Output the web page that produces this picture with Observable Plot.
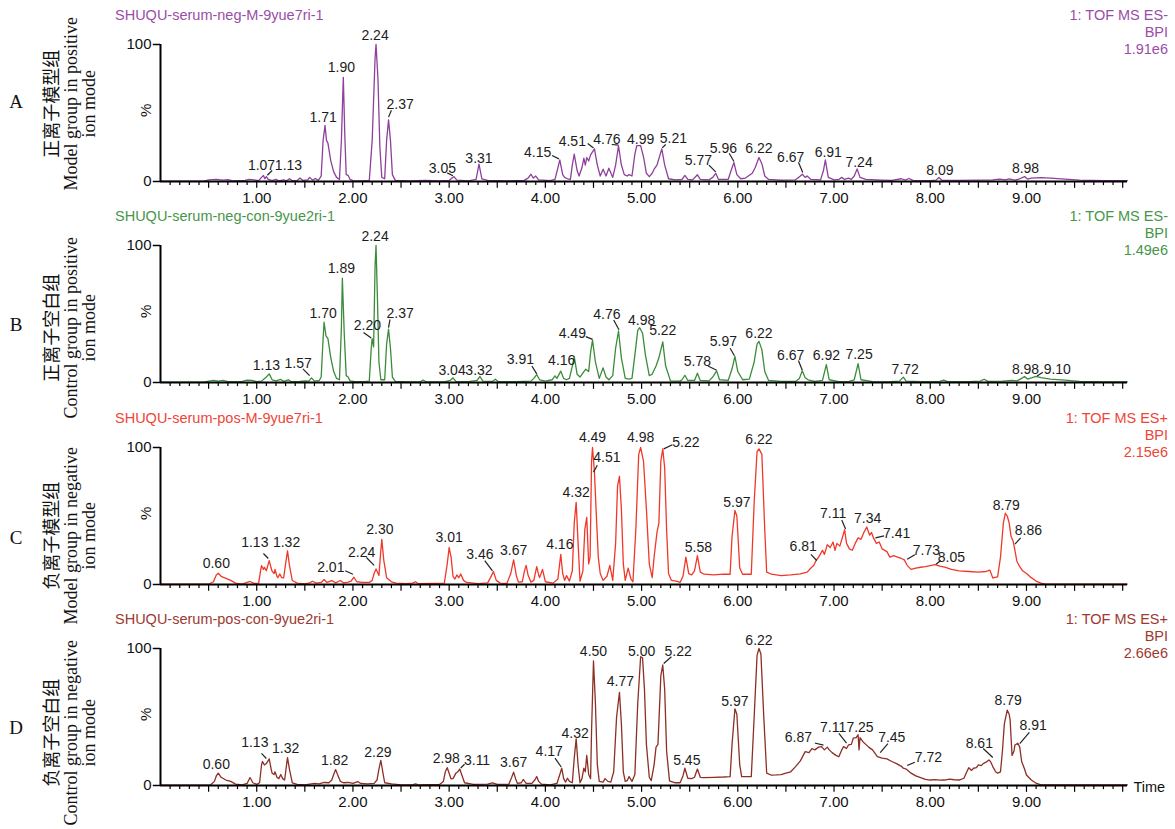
<!DOCTYPE html>
<html><head><meta charset="utf-8">
<script src="https://cdn.jsdelivr.net/npm/d3@7"></script>
<script src="https://cdn.jsdelivr.net/npm/@observablehq/plot@0.6"></script>
<style>
body{margin:0;background:#fff;}
#root{position:relative;width:1175px;height:829px;overflow:hidden;font-family:"Liberation Sans",Arial,sans-serif;background:#fff;}
.panel{position:absolute;left:0;width:1175px;height:201px;}
.panel svg{position:absolute;left:0;top:0;overflow:visible;}
.title{position:absolute;left:115px;top:6.5px;font-size:14.5px;line-height:17px;white-space:nowrap;}
.hdr{position:absolute;right:7px;top:6.5px;font-size:14.5px;line-height:17px;text-align:right;white-space:nowrap;}
.side{position:absolute;width:260px;height:55.5px;font-family:"Liberation Serif","Noto Sans CJK SC",serif;font-size:18px;line-height:18.5px;text-align:center;transform:rotate(-90deg);white-space:nowrap;color:#111;}
.letter{position:absolute;left:6px;width:20px;text-align:center;font-family:"Liberation Serif",serif;font-size:19px;line-height:20px;color:#111;}
</style></head><body><div id="root"></div><script>
// ---------- data ----------
const xMax = 10.05;
const majorTicks = [1, 2, 3, 4, 5, 6, 7, 8, 9];
const yTicks = [0, 100];
const titles = ["SHUQU-serum-neg-M-9yue7ri-1", "SHUQU-serum-neg-con-9yue2ri-1", "SHUQU-serum-pos-M-9yue7ri-1", "SHUQU-serum-pos-con-9yue2ri-1"];
const headers = [["1: TOF MS ES-", "BPI", "1.91e6"], ["1: TOF MS ES-", "BPI", "1.49e6"], ["1: TOF MS ES+", "BPI", "2.15e6"], ["1: TOF MS ES+", "BPI", "2.66e6"]];
const panelLetters = ["A", "B", "C", "D"];
const sideLabels = [
  ["正离子模型组", "Model group in positive", "ion mode"],
  ["正离子空白组", "Control group in positive", "ion mode"],
  ["负离子模型组", "Model group in negative", "ion mode"],
  ["负离子空白组", "Control group in negative", "ion mode"]
];

// [time (min), relative intensity %]
const traceA = [[0.00,0.3],[0.45,0.3],[0.50,1.2],[0.58,1.5],[0.65,1.0],[0.70,1.3],[0.75,0.5],[0.88,0.8],[0.92,1.6],[0.97,1.2],[1.02,0.6],[1.05,3.0],[1.07,4.4],[1.085,2.0],[1.10,3.6],[1.12,1.5],[1.16,0.6],[1.20,1.5],[1.23,0.5],[1.28,1.2],[1.31,0.5],[1.34,2.0],[1.37,0.6],[1.42,0.8],[1.45,2.5],[1.48,0.8],[1.53,1.2],[1.55,3.0],[1.58,1.0],[1.61,2.2],[1.64,0.8],[1.67,4],[1.69,30],[1.71,41],[1.725,30],[1.74,28],[1.77,15],[1.80,7],[1.83,3],[1.86,1.5],[1.88,30],[1.90,76],[1.915,35],[1.93,5],[1.95,4.5],[1.97,1.5],[2.00,0.6],[2.10,0.5],[2.17,0.8],[2.20,30],[2.23,90],[2.24,100],[2.26,75],[2.28,25],[2.30,3],[2.33,2],[2.35,30],[2.37,45],[2.39,30],[2.41,5],[2.44,0.8],[2.6,0.5],[2.75,0.8],[2.9,0.5],[3.0,0.8],[3.03,2.5],[3.05,3.6],[3.08,1.0],[3.2,0.5],[3.28,1.5],[3.31,12.6],[3.34,2],[3.40,0.8],[3.6,0.5],[3.78,0.8],[3.82,2.5],[3.85,5.3],[3.875,2.5],[3.90,4.0],[3.93,1.2],[4.05,0.6],[4.10,1.5],[4.13,10],[4.15,15.8],[4.18,5],[4.20,3],[4.23,2],[4.26,1.5],[4.28,12],[4.30,20],[4.33,8],[4.35,4],[4.38,10],[4.40,17],[4.415,12],[4.43,17.5],[4.45,15],[4.47,19.4],[4.51,23.8],[4.54,12],[4.57,4],[4.60,9],[4.63,4],[4.66,9.7],[4.70,3],[4.73,12],[4.76,26],[4.79,12],[4.82,5],[4.85,4],[4.87,5],[4.90,4],[4.93,20],[4.95,26.2],[4.99,26.2],[5.02,18],[5.05,6],[5.08,3.5],[5.11,6],[5.13,9],[5.16,12],[5.21,23.8],[5.24,12],[5.28,2],[5.35,1.2],[5.42,1.5],[5.45,4.4],[5.48,1.5],[5.53,1.2],[5.58,4.9],[5.61,1.5],[5.70,1.2],[5.74,3],[5.77,6],[5.80,1.5],[5.90,1.5],[5.93,8],[5.96,13.8],[5.99,5],[6.03,2],[6.08,2.5],[6.12,4.5],[6.15,6],[6.18,10],[6.22,17.5],[6.25,13],[6.28,4],[6.32,1.5],[6.45,1.0],[6.60,1.2],[6.65,4],[6.67,5.3],[6.70,3],[6.72,4],[6.76,1.5],[6.86,1.2],[6.89,8],[6.91,15.8],[6.94,3],[7.00,1.2],[7.05,1.5],[7.08,3],[7.11,1.5],[7.15,2.4],[7.18,1.5],[7.21,4],[7.24,9.2],[7.27,3],[7.33,1.5],[7.5,1.0],[7.6,0.8],[7.70,2],[7.74,1.0],[7.78,2.2],[7.82,0.8],[8.0,0.7],[8.06,1.0],[8.09,2.9],[8.12,0.9],[8.3,0.8],[8.5,1.0],[8.65,1.2],[8.72,1.8],[8.78,1.2],[8.82,2.0],[8.88,1.0],[8.93,2.0],[8.98,3.6],[9.01,1.8],[9.05,2.5],[9.15,2.8],[9.25,2.5],[9.4,1.8],[9.55,1.0],[9.8,0.7],[10.05,0.7]];

const traceB = [[0.00,0.3],[0.45,0.3],[0.50,1.0],[0.55,1.5],[0.60,1.0],[0.65,1.5],[0.70,0.6],[0.85,0.8],[0.90,1.8],[0.95,1.5],[1.00,0.6],[1.05,1.0],[1.10,4],[1.13,6.3],[1.16,2],[1.20,1.2],[1.25,2.2],[1.28,0.8],[1.33,2.0],[1.36,0.6],[1.45,0.8],[1.50,1.2],[1.54,1],[1.57,3.4],[1.60,1],[1.65,1.5],[1.67,4],[1.69,32],[1.70,44],[1.72,34],[1.74,32],[1.77,18],[1.80,8],[1.83,3],[1.86,2],[1.88,40],[1.89,76],[1.91,35],[1.93,5],[1.95,4],[1.97,1.2],[2.02,0.6],[2.12,0.6],[2.17,1],[2.19,25],[2.20,32],[2.215,26],[2.23,85],[2.24,100],[2.255,60],[2.27,15],[2.29,2],[2.33,2],[2.35,28],[2.37,39],[2.39,25],[2.41,4],[2.44,0.8],[2.6,0.5],[2.70,0.5],[2.73,1.8],[2.76,0.5],[2.95,0.5],[3.01,1.5],[3.04,3.4],[3.07,0.8],[3.20,0.6],[3.29,1.5],[3.32,4.4],[3.35,1.0],[3.45,0.8],[3.48,2.4],[3.51,0.7],[3.70,0.6],[3.85,1],[3.88,3],[3.91,5.8],[3.94,2],[4.00,1],[4.07,2],[4.10,4.9],[4.12,3],[4.16,8.3],[4.19,3],[4.22,2],[4.25,3],[4.28,12],[4.30,19],[4.33,6],[4.36,4],[4.40,8],[4.42,9.7],[4.45,8],[4.47,22],[4.49,31],[4.52,15],[4.56,3],[4.60,10.7],[4.63,4],[4.66,2],[4.70,5],[4.73,25],[4.76,37.6],[4.79,18],[4.83,3],[4.87,2.5],[4.90,3],[4.93,20],[4.96,38],[4.98,40],[5.01,36],[5.04,20],[5.08,5],[5.11,6],[5.15,12],[5.18,18],[5.22,29.6],[5.25,12],[5.30,1.2],[5.40,1.0],[5.42,2],[5.45,5.3],[5.48,1.5],[5.55,1.5],[5.58,6.8],[5.61,1.5],[5.70,1.2],[5.74,4],[5.78,8.5],[5.81,2],[5.90,1.5],[5.94,10],[5.97,19],[6.00,8],[6.05,2],[6.12,2.5],[6.17,15],[6.20,28],[6.22,30],[6.25,24],[6.28,8],[6.32,1.5],[6.45,0.8],[6.60,0.8],[6.64,3],[6.67,8.5],[6.70,3.5],[6.73,2],[6.80,0.8],[6.88,1.5],[6.92,13],[6.95,2],[7.05,0.7],[7.15,0.7],[7.21,2],[7.25,13.8],[7.28,2],[7.40,0.6],[7.55,0.5],[7.68,1.0],[7.72,3.9],[7.75,1.0],[7.9,0.6],[8.10,0.8],[8.14,1.8],[8.18,0.6],[8.40,0.6],[8.52,1.0],[8.56,2.4],[8.60,0.8],[8.75,1.0],[8.85,1.5],[8.90,1.2],[8.95,3],[8.98,4.4],[9.01,2.5],[9.06,3.5],[9.10,4.4],[9.15,3.5],[9.25,2.5],[9.40,1.8],[9.55,0.8],[9.8,0.5],[10.05,0.5]];

const traceC = [[0.00,0.2],[0.50,0.2],[0.55,2],[0.58,7],[0.60,8.2],[0.63,6],[0.68,4.5],[0.73,3],[0.78,1.0],[0.85,0.3],[0.90,1.5],[0.93,2.2],[0.97,0.8],[1.02,1.0],[1.04,10],[1.05,13.8],[1.07,11],[1.08,12.5],[1.10,10],[1.13,17.4],[1.15,12],[1.16,9.7],[1.18,8],[1.19,11],[1.21,6],[1.22,5],[1.24,7.7],[1.26,5],[1.28,4.8],[1.30,15],[1.32,24.6],[1.34,14],[1.37,2.9],[1.42,1.0],[1.50,0.5],[1.55,1.2],[1.58,2.4],[1.62,1.0],[1.67,1.5],[1.70,3.6],[1.73,1.5],[1.78,2.9],[1.82,1.2],[1.87,2.9],[1.90,1.2],[1.95,1.8],[1.98,2.5],[2.01,5.3],[2.04,2],[2.10,1.5],[2.17,1.5],[2.20,3],[2.22,8],[2.24,11.4],[2.27,6.5],[2.29,25],[2.30,33],[2.32,18],[2.35,5],[2.40,2],[2.45,1.0],[2.55,0.6],[2.62,1.0],[2.65,2],[2.68,0.6],[2.85,0.8],[2.95,1.0],[2.98,15],[3.00,27],[3.02,20],[3.04,6],[3.06,4],[3.08,7],[3.10,5],[3.12,7.7],[3.15,3],[3.18,1.5],[3.30,0.6],[3.40,1.2],[3.43,5],[3.46,9.5],[3.49,3],[3.53,1.0],[3.60,0.8],[3.64,8],[3.67,18],[3.70,6],[3.72,1.7],[3.76,2],[3.78,9],[3.80,14],[3.82,7],[3.85,1.7],[3.88,3],[3.91,13],[3.93,7],[3.94,5],[3.97,11],[4.00,2],[4.08,1.0],[4.13,4],[4.16,22],[4.18,8],[4.20,3],[4.22,6.5],[4.25,2.5],[4.28,10],[4.30,45],[4.32,60],[4.34,30],[4.36,2.4],[4.39,10],[4.41,40],[4.43,49],[4.45,15],[4.465,20],[4.48,90],[4.49,100],[4.51,82],[4.53,50],[4.55,20],[4.57,8],[4.60,3],[4.64,6],[4.67,14],[4.70,3],[4.73,30],[4.75,72],[4.77,79],[4.79,55],[4.81,15],[4.83,3],[4.86,12],[4.89,4],[4.91,2],[4.94,40],[4.97,95],[4.99,100],[5.02,90],[5.05,55],[5.08,15],[5.11,5],[5.13,20],[5.16,38],[5.18,45],[5.20,90],[5.22,99],[5.24,85],[5.26,40],[5.28,8],[5.31,3],[5.36,2.5],[5.40,1.5],[5.43,6],[5.46,20],[5.49,8],[5.52,7],[5.55,10],[5.58,21],[5.61,9],[5.65,7.5],[5.75,7],[5.85,7.5],[5.92,7.5],[5.94,35],[5.97,54],[5.99,50],[6.02,12],[6.05,7.5],[6.14,7.5],[6.17,60],[6.20,97],[6.22,99],[6.25,95],[6.28,40],[6.30,9],[6.35,7.5],[6.45,6.5],[6.55,7],[6.65,7.7],[6.72,9],[6.76,12],[6.79,14],[6.81,17],[6.84,20],[6.88,25],[6.90,22],[6.93,29],[6.96,27],[6.99,31],[7.01,25],[7.03,30],[7.06,28],[7.09,35],[7.11,40],[7.13,30],[7.16,26],[7.19,25],[7.22,30],[7.25,34],[7.28,33],[7.31,38],[7.34,42],[7.37,36],[7.39,38],[7.41,34],[7.44,30],[7.47,31],[7.50,26],[7.55,24],[7.58,20],[7.62,21],[7.66,20],[7.70,19],[7.73,18],[7.76,14],[7.80,11],[7.85,12],[7.90,12.6],[7.95,13],[8.00,13.8],[8.05,14.5],[8.10,13.5],[8.15,12.6],[8.22,11],[8.30,10],[8.40,9.5],[8.50,9],[8.58,9.5],[8.62,10.5],[8.65,4.8],[8.70,5.5],[8.73,20],[8.76,45],[8.78,52],[8.80,50],[8.82,45],[8.84,35],[8.86,32],[8.88,25],[8.90,17],[8.93,13],[8.96,10],[9.00,8],[9.05,5],[9.10,2.5],[9.15,1.0],[9.20,0.3],[10.05,0.3]];

const traceD = [[0.00,0.3],[0.52,0.3],[0.56,3],[0.58,7],[0.60,9],[0.63,6],[0.68,4],[0.73,3],[0.78,1.0],[0.85,0.4],[0.90,1.5],[0.93,5.8],[0.96,2],[1.00,0.8],[1.03,2],[1.05,15],[1.06,17.5],[1.08,15],[1.10,16],[1.13,19.4],[1.15,12],[1.16,9],[1.18,8],[1.19,10],[1.21,6],[1.23,5],[1.25,8],[1.27,5],[1.29,4],[1.31,15],[1.32,20.4],[1.34,12],[1.37,2],[1.42,0.8],[1.50,0.5],[1.55,1.0],[1.60,1.5],[1.65,1.2],[1.70,2.2],[1.75,2.0],[1.78,4],[1.80,8],[1.82,11.6],[1.84,8],[1.87,3],[1.90,2],[1.95,2.2],[2.00,1.5],[2.05,2.9],[2.08,1.5],[2.15,1.2],[2.22,1.5],[2.25,4],[2.27,12],[2.29,18.4],[2.31,10],[2.33,2],[2.40,1.2],[2.50,0.5],[2.62,0.5],[2.65,1.2],[2.68,0.5],[2.90,0.8],[2.94,3],[2.96,10],[2.98,13],[3.00,9],[3.02,4.8],[3.04,5],[3.07,9],[3.09,10],[3.11,12],[3.13,8],[3.16,2],[3.25,0.8],[3.40,1.0],[3.45,2],[3.50,0.8],[3.62,1.0],[3.65,6],[3.67,9.7],[3.69,5],[3.71,1.5],[3.75,2],[3.77,4.4],[3.80,1.5],[3.86,1.5],[3.89,4],[3.91,6.5],[3.93,3],[3.96,1.0],[4.05,0.5],[4.12,1.5],[4.15,8],[4.17,12.6],[4.19,5],[4.21,2.5],[4.23,5.3],[4.25,3],[4.28,2],[4.30,20],[4.32,34],[4.34,15],[4.36,2],[4.38,5],[4.40,12.6],[4.415,10],[4.43,22],[4.45,8],[4.47,5],[4.48,40],[4.50,91],[4.52,60],[4.54,15],[4.56,3],[4.60,2.5],[4.62,5],[4.65,3],[4.68,2.5],[4.71,10],[4.74,50],[4.77,68],[4.79,45],[4.81,10],[4.83,3],[4.85,3.5],[4.87,6.5],[4.90,3],[4.93,8],[4.96,60],[4.99,94],[5.01,93],[5.03,70],[5.05,30],[5.08,6],[5.10,3.6],[5.13,15],[5.15,28],[5.17,30],[5.20,80],[5.22,88],[5.24,70],[5.26,25],[5.29,3.4],[5.35,2],[5.40,2],[5.43,7],[5.45,12.6],[5.48,5.3],[5.52,5],[5.55,6],[5.58,12],[5.61,6],[5.65,5.8],[5.75,6],[5.85,6.2],[5.92,6.5],[5.94,30],[5.97,56],[5.99,52],[6.02,15],[6.04,6.5],[6.14,6.5],[6.17,50],[6.20,95],[6.22,100],[6.24,96],[6.27,50],[6.30,9],[6.35,7.5],[6.40,7.7],[6.45,8],[6.50,9],[6.55,10],[6.60,13.8],[6.65,18],[6.70,24.7],[6.74,24],[6.77,27],[6.80,26],[6.84,28],[6.87,28.4],[6.90,26],[6.93,28],[6.95,26],[6.98,24],[7.02,22],[7.05,21],[7.08,26],[7.10,28.4],[7.13,27],[7.15,29.6],[7.18,30],[7.20,34.5],[7.23,35],[7.25,37],[7.26,26],[7.27,35],[7.30,32],[7.33,30],[7.36,28],[7.40,26],[7.43,23],[7.45,21],[7.50,20],[7.55,19.4],[7.60,17.5],[7.65,16],[7.70,14],[7.72,12.6],[7.75,12],[7.80,9],[7.85,7],[7.90,5.8],[7.95,4.5],[8.00,4],[8.05,4.3],[8.10,3.9],[8.15,4],[8.20,4.6],[8.25,4.2],[8.30,4],[8.35,5.3],[8.38,10],[8.40,13],[8.43,11],[8.45,12.6],[8.48,13],[8.50,15],[8.53,14.5],[8.55,16],[8.58,17],[8.61,18.7],[8.63,17],[8.65,13.8],[8.68,10],[8.70,9],[8.73,10],[8.75,25],[8.77,45],[8.80,55],[8.82,52],[8.83,48],[8.84,35],[8.85,22],[8.87,25],[8.88,29.6],[8.91,30.8],[8.93,28],[8.95,17.5],[8.98,12],[9.00,7.7],[9.05,4],[9.10,1.7],[9.15,0.5],[10.05,0.5]];

// peak labels: [text, label time, label %, leader from time, from %, to time, to %]
const labelsA = [["1.07",1.05,11.7],["1.13",1.33,11.7,1.16,8,1.11,4.6],["1.71",1.69,46.7],["1.90",1.88,83],["2.24",2.23,106.6],["2.37",2.49,56.3,2.40,52,2.37,47],["3.05",2.93,9.2,2.98,6.3,3.04,4.2],["3.31",3.31,16.5],["4.15",3.92,21.4,4.07,19,4.14,16.5],["4.51",4.28,29,4.44,27.7,4.50,24.5],["4.76",4.64,31,4.69,27,4.76,26.5],["4.99",4.99,31],["5.21",5.33,31.5,5.25,27,5.215,24.5],["5.77",5.59,15,5.70,12,5.77,7],["5.96",5.85,24.3,5.91,20.6,5.96,14.6],["6.22",6.22,23.8],["6.67",6.55,17.5,6.63,14,6.675,6.5],["6.91",6.94,21.4],["7.24",7.26,14],["8.09",8.10,7.8],["8.98",8.99,9.7]];
const labelsB = [["1.13",1.10,12.4],["1.57",1.43,13.9,1.48,10,1.55,5],["1.70",1.69,50.4],["1.89",1.88,83],["2.20",2.15,41.6,2.11,36.5,2.19,32.5],["2.24",2.23,106.6],["2.37",2.49,50,2.385,46,2.37,40],["3.04",3.03,8.5],["3.32",3.31,8.5],["3.91",3.74,16.5,3.86,12,3.91,6.3],["4.16",4.17,15.8],["4.49",4.28,36,4.42,33.5,4.49,31.5],["4.76",4.64,49.8,4.71,45.6,4.765,38.5],["4.98",5.00,45],["5.22",5.22,38],["5.78",5.58,15,5.69,12,5.78,9],["5.97",5.85,30,5.92,25,5.965,19.5],["6.22",6.22,36],["6.67",6.55,19.4,6.63,16,6.67,9],["6.92",6.92,19.4],["7.25",7.26,20.5],["7.72",7.74,9.7],["8.98",8.99,9.7],["9.10",9.32,9.7,9.17,7.5,9.11,4.8]];
const labelsC = [["0.60",0.58,15.3],["1.13",0.98,30.7,1.07,22.6,1.12,19],["1.32",1.31,30.7],["2.01",1.77,12.4,1.92,10,2.0,7.5],["2.24",2.09,23.4,2.14,19.7,2.22,14],["2.30",2.28,40],["3.01",3.00,34],["3.46",3.32,22,3.37,17.5,3.45,10],["3.67",3.67,25],["4.16",4.15,29],["4.32",4.32,67],["4.49",4.49,107],["4.51",4.64,92.7,4.54,87,4.50,82],["4.98",4.99,107],["5.22",5.46,103.6,5.32,102,5.23,99],["5.58",5.59,27],["5.97",5.99,60],["6.22",6.22,106],["6.81",6.68,27.5,6.76,22,6.82,17.5],["7.11",6.99,51.7,7.08,47,7.12,40.5],["7.34",7.35,48],["7.41",7.65,37,7.52,35.5,7.43,34],["7.73",7.96,25,7.84,21.7,7.76,18.5],["8.05",8.22,20,8.11,17.5,8.06,14.8],["8.79",8.79,58],["8.86",9.02,39.6,8.94,34,8.88,29.5]];
const labelsD = [["0.60",0.58,15.3],["1.13",0.98,31.4,1.05,23.4,1.10,19.7],["1.32",1.30,27],["1.82",1.81,18.2],["2.29",2.26,24],["2.98",2.97,19.4],["3.11",3.29,18,3.16,15.5,3.12,12.8],["3.67",3.67,17],["4.17",4.04,25,4.10,20,4.165,13.5],["4.32",4.31,38],["4.50",4.50,98],["4.77",4.78,75.7],["5.00",5.00,98],["5.22",5.38,98,5.31,94,5.23,89],["5.45",5.47,18],["5.97",5.97,61],["6.22",6.22,106],["6.87",6.63,35,6.80,31,6.89,29.5],["7.11",6.99,42,7.05,38,7.13,31],["7.25",7.27,42],["7.45",7.60,35,7.56,30.6,7.48,24],["7.72",7.98,20.4,7.84,17,7.76,14.6],["8.61",8.51,31,8.55,27,8.65,20.4],["8.79",8.81,62],["8.91",9.07,44,9.03,38.7,8.93,30.6]];

const traces = [traceA, traceB, traceC, traceD];
const labelSets = [labelsA, labelsB, labelsC, labelsD];

// ---------- styles / layout ----------
const lineColors = ["#8f3f9c", "#3a8c3a", "#f0382a", "#8c2f25"];
const titleColors = ["#9a4da6", "#46964a", "#ef4536", "#9c3a30"];
const panelTops = [0, 201, 403, 604];
const sideCenters = [104, 328, 536, 733];
const letterCenters = [102, 325, 538, 728];

const root = document.getElementById("root");
const toLab = arr => arr.map(([s, t, v, t1, v1, t2, v2]) => ({s, t, v, t1, v1, t2, v2}));
const minorIdx = d3.range(1, 101);

traces.forEach((trace, i) => {
  const panel = document.createElement("div");
  panel.className = "panel";
  panel.style.top = panelTops[i] + "px";
  root.appendChild(panel);

  const labs = toLab(labelSets[i]);
  const marks = [
    Plot.ruleX(minorIdx, {x: k => k / 10, y1: 0, y2: k => (k % 5 === 0 ? -5 : -3), stroke: "#000", strokeWidth: 1.2}),
    Plot.text(majorTicks, {x: d => d, y: 0, dy: 17, text: d => d.toFixed(2), fontSize: 15, fill: "#111"}),
    Plot.ruleY(yTicks, {y: d => d, x1: 0, x2: -0.075, stroke: "#000", strokeWidth: 1.5}),
    Plot.text(yTicks, {x: 0, y: d => d, dx: -9, textAnchor: "end", text: d => String(d), fontSize: 15, fill: "#111"}),
    Plot.text(["%"], {x: 0, y: 52, dx: -14, rotate: -90, text: d => d, fontSize: 15, fill: "#111"}),
    Plot.line(trace, {x: d => d[0], y: d => d[1], stroke: lineColors[i], strokeWidth: 1.3}),
    Plot.ruleY([0], {x1: 0, x2: xMax, stroke: "#000", strokeWidth: 2}),
    Plot.ruleX([0], {y1: 0, y2: 100, stroke: "#000", strokeWidth: 2}),
    Plot.link(labs.filter(d => d.t1 != null), {x1: "t1", y1: "v1", x2: "t2", y2: "v2", stroke: "#222", strokeWidth: 1.2}),
    Plot.text(labs, {x: "t", y: "v", text: "s", fontSize: 14, fill: "#1c1c1c"})
  ];
  if (i === 3) marks.push(Plot.text(["Time"], {x: xMax, y: 0, dx: 6, dy: 2, textAnchor: "start", text: d => d, fontSize: 14.5, fill: "#111"}));

  const svg = Plot.plot({
    width: 1175, height: 201,
    marginLeft: 160, marginRight: 48, marginTop: 44, marginBottom: 20,
    x: {domain: [0, xMax], axis: null},
    y: {domain: [0, 100], axis: null},
    style: {fontFamily: "Liberation Sans, Arial, sans-serif", background: "transparent", overflow: "visible"},
    marks
  });
  panel.appendChild(svg);

  const t = document.createElement("div");
  t.className = "title"; t.style.color = titleColors[i]; t.textContent = titles[i];
  panel.appendChild(t);
  const h = document.createElement("div");
  h.className = "hdr"; h.style.color = titleColors[i]; h.innerHTML = headers[i].join("<br>");
  panel.appendChild(h);

  const side = document.createElement("div");
  side.className = "side";
  side.style.left = (71 - 130) + "px";
  side.style.top = (sideCenters[i] - 27.75) + "px";
  side.innerHTML = sideLabels[i].join("<br>");
  root.appendChild(side);

  const L = document.createElement("div");
  L.className = "letter";
  L.style.top = (letterCenters[i] - 10) + "px";
  L.textContent = panelLetters[i];
  root.appendChild(L);
});
</script></body></html>
